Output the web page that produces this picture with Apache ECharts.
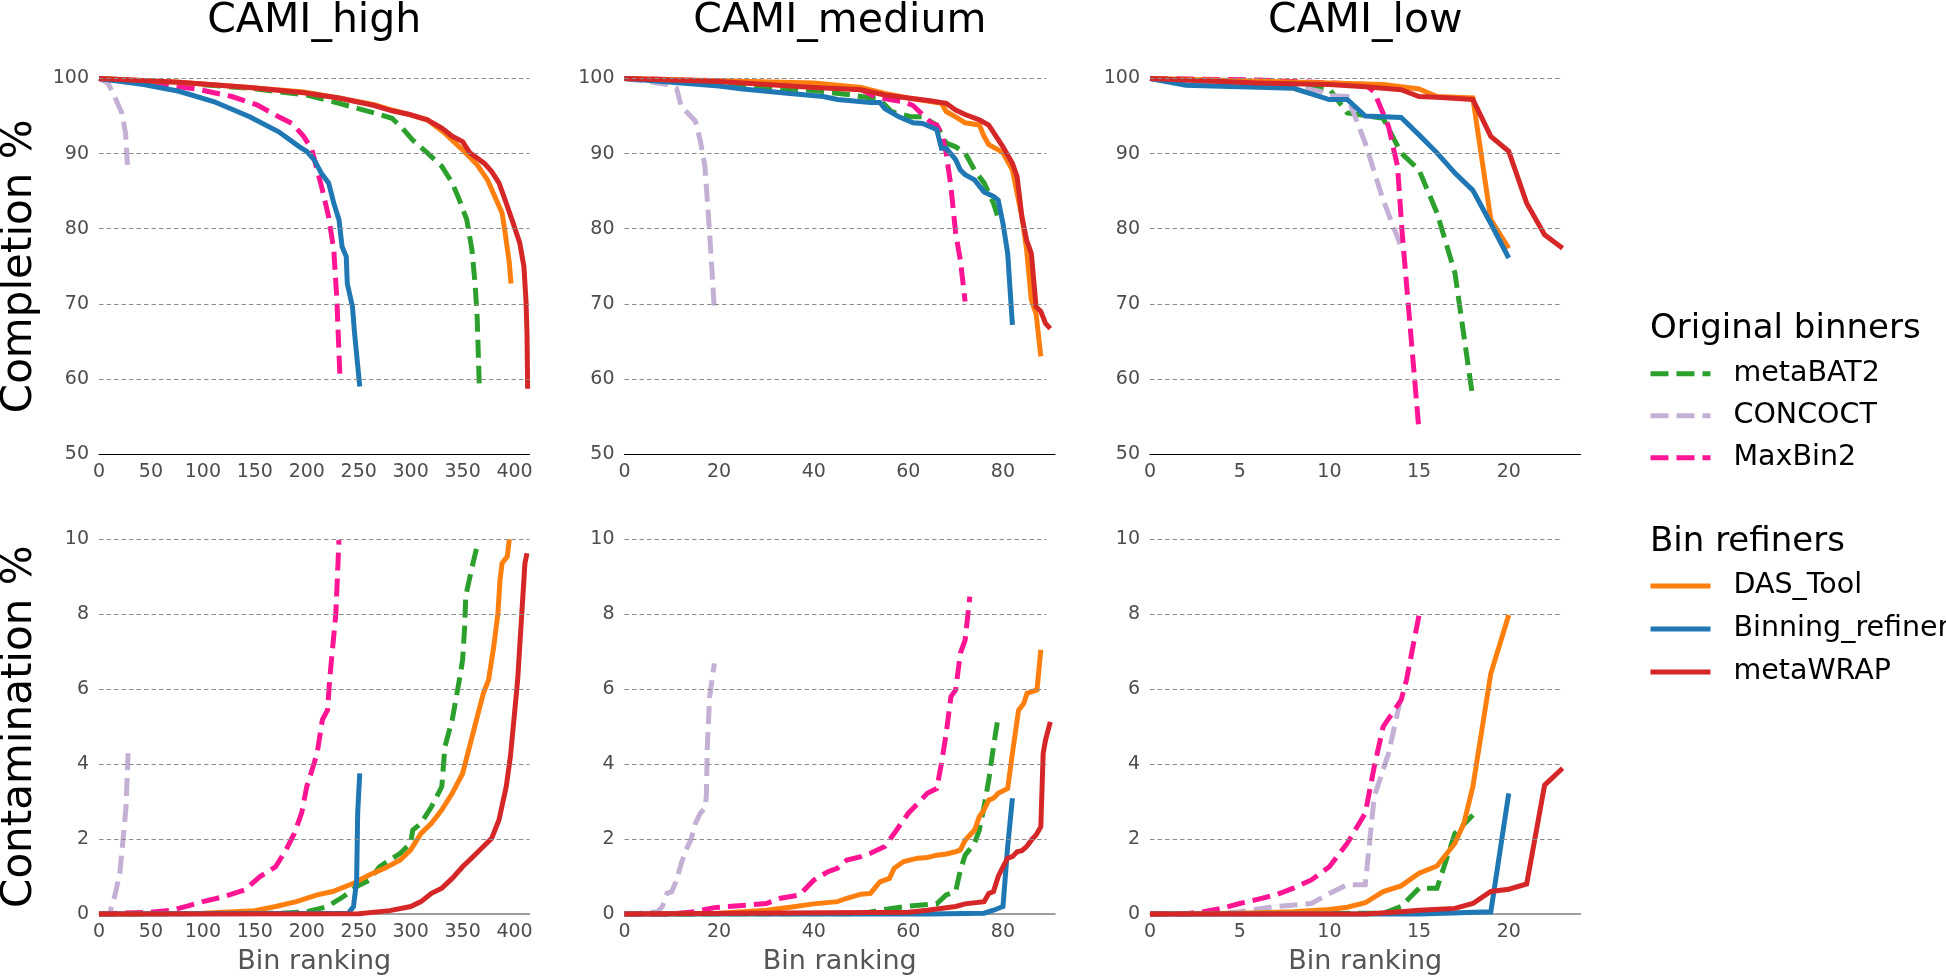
<!DOCTYPE html>
<html><head><meta charset="utf-8">
<script src="https://cdn.jsdelivr.net/npm/echarts@6/dist/echarts.min.js"></script>
<style>html,body{margin:0;padding:0;background:#fff}#c{width:1946px;height:978px}</style>
</head><body><div id="c"></div>
<script>
// ---------- data ----------
const datasets = ['CAMI_high', 'CAMI_medium', 'CAMI_low'];
const originalBinners = ['metaBAT2', 'CONCOCT', 'MaxBin2'];
const binRefiners = ['DAS_Tool', 'Binning_refiner', 'metaWRAP'];
const xMax = [414.4, 91, 24];
const xStep = [50, 20, 5];
const gridEnd = [414.4, 89.2, 23];
const completionGridValues = [60, 70, 80, 90, 100];
const contaminationGridValues = [2, 4, 6, 8, 10];

// CAMI_high completion
const high_comp_metaBAT2 = [[0,100],[77,99.4],[145,98.7],[200,97.8],[231,96.7],[265,95.4],[282,94.7],[292,93.4],[302,91.8],[316,90.1],[330,88.3],[340,86.1],[347,83.8],[354,81.2],[359,77.2],[362,72.7],[364,68.3],[366,59.4]];
const high_comp_CONCOCT = [[0,100],[8.5,99.4],[15,97.6],[22,95.4],[25.6,92.7],[27.4,88.5]];
const high_comp_MaxBin2 = [[0,100],[60,99.2],[94,98.6],[128,97.6],[152,96.5],[173,94.9],[186,94.0],[197,92.3],[205,90.5],[210,87.8],[215,85.2],[221,81.6],[226,77.2],[229,70.5],[232,60.0]];
const high_comp_DAS_Tool = [[0,100],[77,99.5],[145,98.8],[197,98.2],[231,97.4],[265,96.5],[282,95.8],[299,95.2],[316,94.5],[333,92.7],[350,90.5],[364,88.5],[374,86.5],[381,84.3],[388,82.1],[391,79.4],[395,75.4],[396.6,72.7]];
const high_comp_Binning_refiner = [[0,100],[43,99.2],[77,98.3],[111,96.9],[145,94.9],[173,92.9],[193,90.9],[200,90.3],[207,89.2],[214,87.4],[221,86.1],[226,83.4],[231,81.2],[234,77.6],[238,76.3],[239,72.7],[244,69.6],[246,66.1],[251,59.0]];
const high_comp_metaWRAP = [[0,100],[77,99.5],[145,98.8],[197,98.1],[231,97.4],[265,96.4],[282,95.7],[299,95.2],[316,94.5],[330,93.4],[340,92.3],[350,91.6],[357,90.1],[371,88.7],[378,87.6],[385,86.1],[391,83.8],[398,81.0],[405,78.1],[409,75.0],[411,70.5],[412,66.0],[412.6,58.7]];

// CAMI_medium completion
const med_comp_metaBAT2 = [[0,100],[40,98.4],[48,97.8],[54,97.2],[56.4,95.6],[60.7,94.9],[63,94.9],[66,93.8],[68,91.4],[70,90.9],[72,90.1],[74,87.8],[76,86.1],[78,83.4],[79,81.4]];
const med_comp_CONCOCT = [[0,100],[5,99.6],[9,99.2],[11,98.7],[12,96.3],[15,94.3],[16,91.8],[17,88.3],[18,79.4],[19,69.2]];
const med_comp_MaxBin2 = [[0,100],[20,99.7],[40,99.2],[50,98.5],[53,97.6],[56,97.2],[59,96.9],[61,96.4],[63,95.2],[65,94.0],[66,93.8],[67,92.7],[68,90.1],[69,85.6],[70,79.4],[71,75.8],[72,70.3]];
const med_comp_DAS_Tool = [[0,100],[40,99.4],[50,98.8],[55,98.0],[60,97.4],[67,96.7],[68,95.6],[70,94.9],[72,94.1],[75,93.8],[76,92.3],[77,91.2],[79,90.5],[80,90.1],[82,87.8],[83,84.7],[84,81.6],[85,77.2],[86,70.5],[87,68.7],[88,63.0]];
const med_comp_Binning_refiner = [[0,100],[20,99.0],[25,98.6],[35,98.0],[42,97.6],[45,97.2],[52,96.8],[54,96.8],[55,96.0],[58,94.9],[61,94.1],[63,94.0],[66,93.2],[67,90.7],[68,90.7],[70,89.2],[71,87.8],[72,87.2],[74,86.5],[76,84.9],[78,84.3],[79,83.8],[80,80.7],[81,76.7],[82,67.2]];
const med_comp_metaWRAP = [[0,100],[20,99.6],[40,98.8],[50,98.5],[55,97.8],[60,97.4],[65,97.0],[68,96.7],[70,95.8],[72,95.2],[75,94.5],[77,93.8],[80,90.9],[82,88.7],[83,86.9],[84,81.6],[85,78.5],[86,76.7],[87,69.6],[88,69.0],[89,67.4],[90,66.7]];

// CAMI_low completion
const low_comp_metaBAT2 = [[0,100],[8,99.2],[10,98.6],[11,95.4],[13,94.7],[14,90.1],[15,87.8],[16,82.1],[17,74.1],[18,57.4]];
const low_comp_CONCOCT = [[0,100],[8,99.0],[9.5,98.3],[10,97.7],[11,97.6],[12,91.4],[13,83.8],[14,77.6]];
const low_comp_MaxBin2 = [[0,100],[6,99.8],[12,99.2],[12.5,98.2],[13.3,93.6],[13.8,88.3],[14.06,79.4],[15,53.0]];
const low_comp_DAS_Tool = [[0,100],[10,99.4],[13,99.2],[15,98.6],[16,97.6],[18,97.4],[19,81.2],[20,77.4]];
const low_comp_Binning_refiner = [[0,100],[2,99.1],[8,98.7],[10,97.2],[11,97.2],[12,95.0],[14,94.8],[15,92.5],[16,90.1],[17,87.4],[18,85.1],[19,80.7],[20,76.1]];
const low_comp_metaWRAP = [[0,100],[2,99.8],[6,99.4],[10,99.2],[12,98.9],[14,98.5],[15,97.6],[16,97.5],[18,97.2],[19,92.3],[20,90.3],[21,83.4],[22,79.2],[23,77.4]];

// CAMI_high contamination
const high_cont_metaBAT2 = [[0,0],[175,0.02],[200,0.06],[220,0.2],[235,0.46],[248,0.73],[260,0.9],[270,1.26],[290,1.62],[300,1.89],[302,2.24],[310,2.42],[320,2.86],[330,3.4],[333,4.47],[340,5.18],[348,6.42],[350,6.78],[352,7.67],[353,8.47],[355,8.74],[360,9.36],[365,9.94]];
const high_cont_CONCOCT = [[0,0],[10,0],[15,0.46],[20,1.08],[24,2.24],[26,2.86],[28,4.29]];
const high_cont_MaxBin2 = [[0,0],[50,0.05],[70,0.1],[85,0.21],[100,0.33],[120,0.46],[140,0.64],[155,1.0],[170,1.26],[180,1.71],[188,2.15],[195,2.69],[200,3.4],[204,3.75],[210,4.29],[215,5.18],[220,5.44],[222,6.25],[225,7.14],[228,8.02],[231,9.98]];
const high_cont_DAS_Tool = [[0,0],[100,0.02],[150,0.09],[170,0.2],[190,0.33],[210,0.51],[225,0.6],[245,0.82],[260,1.04],[275,1.22],[290,1.44],[300,1.71],[310,2.15],[320,2.42],[330,2.78],[340,3.22],[350,3.75],[355,4.29],[360,4.82],[365,5.36],[370,5.89],[375,6.25],[380,7.14],[384,8.02],[386,8.91],[388,9.36],[393,9.54],[395,10.0]];
const high_cont_Binning_refiner = [[0,0],[240,0.02],[245,0.2],[248,0.9],[249,2.69],[251,3.75]];
const high_cont_metaWRAP = [[0,0],[250,0.01],[280,0.09],[300,0.2],[310,0.33],[320,0.55],[330,0.69],[340,0.95],[350,1.26],[360,1.53],[370,1.8],[378,2.02],[385,2.51],[392,3.4],[396,4.2],[400,5.36],[403,6.25],[405,7.14],[408,8.47],[410,9.36],[412,9.63]];

// CAMI_medium contamination
const med_cont_metaBAT2 = [[0,0],[50,0.01],[55,0.12],[60,0.21],[66,0.27],[68,0.51],[70,0.6],[71,1.17],[72,1.57],[74,1.89],[75,2.24],[76,2.86],[77,3.58],[78,4.47],[79,5.27]];
const med_cont_CONCOCT = [[0,0],[3,0.02],[7,0.06],[8,0.2],[9,0.55],[10,0.6],[11,0.9],[12,1.35],[13,1.71],[14,1.97],[15,2.42],[16,2.69],[17,2.82],[17.3,3.13],[17.5,4.47],[18,5.8],[19,6.69]];
const med_cont_MaxBin2 = [[0,0],[10,0],[15,0.06],[17,0.12],[19,0.17],[30,0.28],[33,0.42],[37,0.51],[40,0.9],[43,1.13],[45,1.22],[47,1.44],[50,1.53],[52,1.62],[55,1.8],[57,2.15],[60,2.69],[62,2.95],[64,3.22],[66,3.35],[67,4.02],[68,4.82],[69,5.8],[70,5.98],[71,6.96],[72,7.31],[73,8.47]];
const med_cont_DAS_Tool = [[0,0],[20,0.02],[30,0.1],[35,0.18],[40,0.27],[45,0.33],[47,0.42],[50,0.53],[52,0.55],[54,0.86],[56,0.95],[57,1.22],[59,1.4],[62,1.49],[64,1.51],[66,1.57],[68,1.6],[70,1.66],[71,1.71],[72,1.97],[74,2.24],[75,2.6],[76,2.78],[77,3.04],[78,3.09],[79,3.22],[81,3.35],[82,4.29],[83.3,5.44],[84.4,5.62],[85.1,5.89],[87.2,5.98],[88,7.05]];
const med_cont_Binning_refiner = [[0,0],[64,0],[76,0.02],[78,0.1],[80,0.2],[81,1.8],[82,3.09]];
const med_cont_metaWRAP = [[0,0],[60,0.05],[64,0.1],[70,0.2],[72,0.27],[76,0.33],[77,0.55],[78,0.6],[79,1.0],[80,1.26],[81,1.49],[82,1.53],[83,1.66],[84,1.69],[85,1.8],[86,1.97],[87,2.11],[88,2.33],[88.5,4.29],[89,4.64],[90,5.13]];

// CAMI_low contamination
const low_cont_metaBAT2 = [[0,0],[13,0.02],[14,0.2],[15,0.69],[16,0.69],[17,2.15],[18,2.64]];
const low_cont_CONCOCT = [[0,0],[4,0.02],[5,0.06],[7,0.2],[9,0.28],[10,0.55],[11,0.78],[12,0.78],[12.5,3.13],[13.3,4.29],[14,5.8]];
const low_cont_MaxBin2 = [[0,0],[2,0.01],[3,0.06],[4,0.15],[5,0.28],[6,0.39],[7,0.51],[8,0.69],[9,0.91],[10,1.26],[11,1.89],[12,2.69],[12.5,3.93],[13,5.0],[14,5.71],[14.3,6.25],[15,7.98]];
const low_cont_DAS_Tool = [[0,0],[5,0.02],[8,0.06],[10,0.12],[11,0.18],[12,0.3],[13,0.6],[14,0.75],[15,1.09],[16,1.28],[17,1.89],[17.5,2.42],[18,3.4],[18.5,4.91],[19,6.42],[20,7.98]];
const low_cont_Binning_refiner = [[0,0],[15,0],[19,0.06],[20,3.22]];
const low_cont_metaWRAP = [[0,0],[12,0],[14,0.06],[15,0.1],[17,0.15],[18,0.28],[19,0.6],[20,0.66],[21,0.8],[22,3.44],[23,3.89]];

// ---------- tables built from the arrays ----------
const completion = [
  {metaBAT2: high_comp_metaBAT2, CONCOCT: high_comp_CONCOCT, MaxBin2: high_comp_MaxBin2, DAS_Tool: high_comp_DAS_Tool, Binning_refiner: high_comp_Binning_refiner, metaWRAP: high_comp_metaWRAP},
  {metaBAT2: med_comp_metaBAT2, CONCOCT: med_comp_CONCOCT, MaxBin2: med_comp_MaxBin2, DAS_Tool: med_comp_DAS_Tool, Binning_refiner: med_comp_Binning_refiner, metaWRAP: med_comp_metaWRAP},
  {metaBAT2: low_comp_metaBAT2, CONCOCT: low_comp_CONCOCT, MaxBin2: low_comp_MaxBin2, DAS_Tool: low_comp_DAS_Tool, Binning_refiner: low_comp_Binning_refiner, metaWRAP: low_comp_metaWRAP}
];
const contamination = [
  {metaBAT2: high_cont_metaBAT2, CONCOCT: high_cont_CONCOCT, MaxBin2: high_cont_MaxBin2, DAS_Tool: high_cont_DAS_Tool, Binning_refiner: high_cont_Binning_refiner, metaWRAP: high_cont_metaWRAP},
  {metaBAT2: med_cont_metaBAT2, CONCOCT: med_cont_CONCOCT, MaxBin2: med_cont_MaxBin2, DAS_Tool: med_cont_DAS_Tool, Binning_refiner: med_cont_Binning_refiner, metaWRAP: med_cont_metaWRAP},
  {metaBAT2: low_cont_metaBAT2, CONCOCT: low_cont_CONCOCT, MaxBin2: low_cont_MaxBin2, DAS_Tool: low_cont_DAS_Tool, Binning_refiner: low_cont_Binning_refiner, metaWRAP: low_cont_metaWRAP}
];

// ---------- styles ----------
const FONT = 'DejaVu Sans';
const colors = {metaBAT2:'#2ca02c', CONCOCT:'#c5b0d5', MaxBin2:'#ff1493', DAS_Tool:'#ff7f0e', Binning_refiner:'#1f77b4', metaWRAP:'#d62728'};
const dashed = {metaBAT2:true, CONCOCT:true, MaxBin2:true};
const LW = 5;
const DASH = [18, 8];

const colLeft = [99, 624.5, 1150];
const colWidth = 430.5;
const rowTop = [78.5, 539.3];
const rowHeight = [375.5, 374.7];

const grids = [], xAxes = [], yAxes = [], series = [], graphics = [];
for (let r = 0; r < 2; r++) {
  for (let c = 0; c < 3; c++) {
    const g = r * 3 + c;
    grids.push({left: colLeft[c], top: rowTop[r], width: colWidth, height: rowHeight[r], containLabel: false});
    const step = xStep[c];
    xAxes.push({
      type: 'value', gridIndex: g, min: 0, max: xMax[c], interval: step,
      axisLine: {show: true, onZero: false, lineStyle: {color: r === 0 ? '#000' : '#808080', width: r === 0 ? 1.2 : 1.6}},
      axisTick: {show: false}, splitLine: {show: false},
      axisLabel: {fontFamily: FONT, fontSize: 19, color: '#4d4d4d', margin: 9,
        formatter: v => (Math.abs(v / step - Math.round(v / step)) < 1e-9 ? String(v) : '')}
    });
    yAxes.push({
      type: 'value', gridIndex: g,
      min: r === 0 ? 50 : 0, max: r === 0 ? 100 : 10, interval: r === 0 ? 10 : 2,
      axisLine: {show: false}, axisTick: {show: false}, splitLine: {show: false},
      axisLabel: {fontFamily: FONT, fontSize: 19, color: '#4d4d4d', margin: 10}
    });
    // dashed horizontal grid lines, through the axes' own scales
    const gv = r === 0 ? completionGridValues : contaminationGridValues;
    series.push({
      type: 'line', name: '_grid', xAxisIndex: g, yAxisIndex: g, data: [], z: 1, silent: true,
      markLine: {
        silent: true, animation: false, symbol: ['none', 'none'], label: {show: false},
        lineStyle: {color: '#8c8c8c', type: [4.5, 3], width: 1},
        emphasis: {disabled: true},
        data: gv.map(v => [{coord: [0, v]}, {coord: [gridEnd[c], v]}])
      }
    });
    const table = r === 0 ? completion[c] : contamination[c];
    originalBinners.concat(binRefiners).forEach(name => {
      series.push({
        type: 'line', name: name, xAxisIndex: g, yAxisIndex: g, data: table[name],
        showSymbol: false, symbol: 'none', clip: false, z: 2, animation: false,
        emphasis: {disabled: true},
        lineStyle: {color: colors[name], width: LW, type: dashed[name] ? DASH : 'solid', cap: 'butt', join: 'miter'},
        itemStyle: {color: colors[name]}
      });
    });
  }
}

// titles, axis names
for (let c = 0; c < 3; c++) {
  const cx = colLeft[c] + colWidth / 2;
  graphics.push({type: 'text', x: cx, y: 21, silent: true,
    style: {text: datasets[c], fontFamily: FONT, fontSize: 41, fill: '#000', align: 'center', verticalAlign: 'middle', textAlign: 'center', textVerticalAlign: 'middle'}});
  graphics.push({type: 'text', x: cx, y: 962, silent: true,
    style: {text: 'Bin ranking', fontFamily: FONT, fontSize: 27, fill: '#555', align: 'center', verticalAlign: 'middle', textAlign: 'center', textVerticalAlign: 'middle'}});
}
graphics.push({type: 'text', x: 20, y: rowTop[0] + rowHeight[0] / 2, rotation: Math.PI / 2, silent: true,
  style: {text: 'Completion %', fontFamily: FONT, fontSize: 42, fill: '#000', align: 'center', verticalAlign: 'middle', textAlign: 'center', textVerticalAlign: 'middle'}});
graphics.push({type: 'text', x: 20, y: rowTop[1] + rowHeight[1] / 2, rotation: Math.PI / 2, silent: true,
  style: {text: 'Contamination %', fontFamily: FONT, fontSize: 42, fill: '#000', align: 'center', verticalAlign: 'middle', textAlign: 'center', textVerticalAlign: 'middle'}});
graphics.push({type: 'text', x: 1650, y: 329, silent: true,
  style: {text: 'Original binners', fontFamily: FONT, fontSize: 34, fill: '#000', align: 'left', verticalAlign: 'middle', textAlign: 'left', textVerticalAlign: 'middle'}});
graphics.push({type: 'text', x: 1650, y: 542, silent: true,
  style: {text: 'Bin refiners', fontFamily: FONT, fontSize: 34, fill: '#000', align: 'left', verticalAlign: 'middle', textAlign: 'left', textVerticalAlign: 'middle'}});

const legendBase = {
  orient: 'vertical', left: 1648, itemWidth: 60, itemHeight: 14, padding: 0, selectedMode: false,
  textStyle: {fontFamily: FONT, fontSize: 28.5, color: '#000', lineHeight: 30, padding: [0, 0, 0, 18]},
  lineStyle: {width: 5},
  itemStyle: {opacity: 0, borderWidth: 0}
};

const chart = echarts.init(document.getElementById('c'), null, {renderer: 'canvas'});
chart.setOption({
  animation: false,
  backgroundColor: '#fff',
  textStyle: {fontFamily: FONT},
  grid: grids, xAxis: xAxes, yAxis: yAxes, series: series,
  legend: [
    Object.assign({}, legendBase, {data: originalBinners, top: 358.7, itemGap: 12}),
    Object.assign({}, legendBase, {data: binRefiners, top: 571, itemGap: 13})
  ],
  graphic: graphics
});
</script></body></html>
